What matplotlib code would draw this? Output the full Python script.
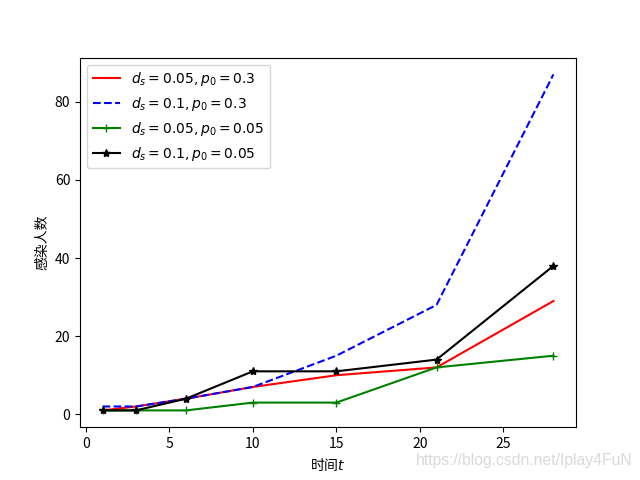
import matplotlib
matplotlib.use('Agg')
import matplotlib.pyplot as plt

plt.rcParams['font.family'] = ['Noto Sans CJK SC', 'DejaVu Sans']
plt.rcParams['axes.unicode_minus'] = False

days = [1, 3, 6, 10, 15, 21, 28]
red = [1, 2, 4, 7, 10, 12, 29]
blue = [2, 2, 4, 7, 15, 28, 87]
green = [1, 1, 1, 3, 3, 12, 15]
black = [1, 1, 4, 11, 11, 14, 38]

fig = plt.figure(figsize=(6.4, 4.8), dpi=100)
plt.plot(days, red, 'r-', label='$d_s=0.05,p_0=0.3$')
plt.plot(days, blue, 'b--', label='$d_s=0.1,p_0=0.3$')
plt.plot(days, green, 'g-', marker='+', label='$d_s=0.05,p_0=0.05$')
plt.plot(days, black, 'k-', marker='*', label='$d_s=0.1,p_0=0.05$')
plt.xlabel('时间$t$')
plt.ylabel('感染人数')
plt.legend(fontsize=10)
fig.text(0.988, 0.04, 'https://blog.csdn.net/Iplay4FuN', ha='right', va='center',
         color='#d9d9d9', fontsize=11.3, family=['Liberation Sans', 'DejaVu Sans'])
plt.savefig('out.png')
